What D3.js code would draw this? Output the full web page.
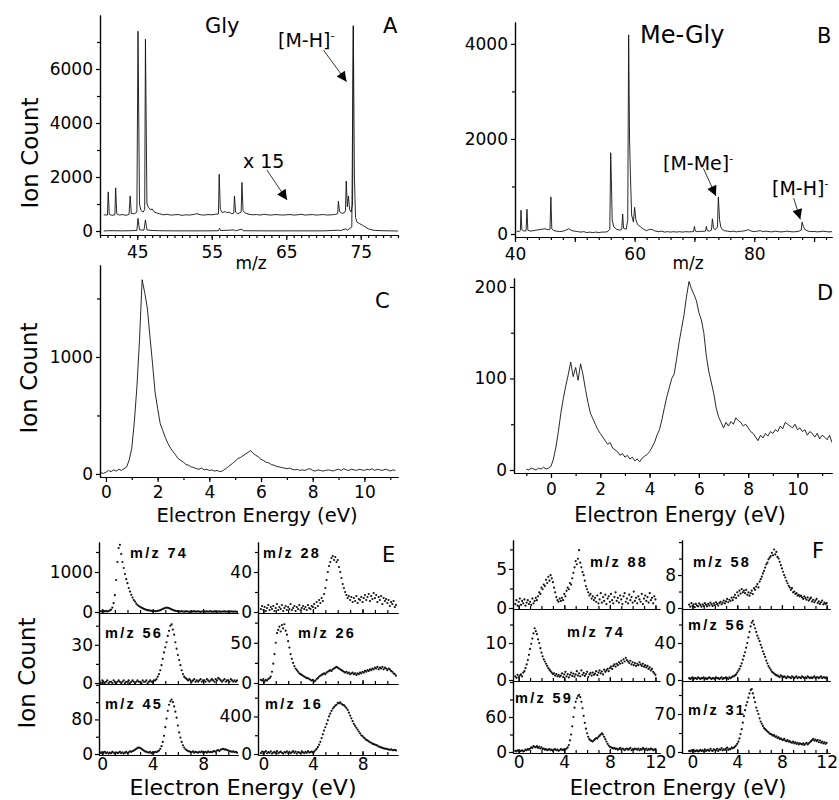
<!DOCTYPE html>
<html>
<head>
<meta charset="utf-8">
<script src="https://cdn.jsdelivr.net/npm/d3@7"></script>
<style>
  body { margin: 0; background: #fff; }
  svg text { font-family: "DejaVu Sans", sans-serif; fill: #000; }
  .axis text { font-family: "DejaVu Sans", sans-serif; font-size: 17px; fill: #000; }
  .axis path, .axis line { stroke: #000; stroke-width: 1.2; }
  .ml { font-family: "Liberation Sans", Arial, sans-serif; font-weight: bold; font-size: 14.5px; letter-spacing: 2.3px; }
</style>
</head>
<body>
<script>
// ---------- A : glycine mass spectrum, [m/z, ion count] ----------
const glyMain = [[40.5,0],[41,10],[42,10],[43,5],[44,10],[44.95,20],[45.1,470],[45.3,40],[45.9,30],[46.1,410],
  [46.3,40],[47,20],[48,10],[50,5],[52,5],[54,5],[55.9,10],[56.05,100],[56.2,15],[58,40],[58.2,10],[59.05,70],
  [59.2,10],[62,5],[66,5],[70,5],[72,30],[72.2,10],[73,80],[73.2,30],[73.8,150],[74.0,7600],[74.15,2000],
  [74.3,500],[74.5,330],[74.8,280],[75.2,220],[75.6,150],[76,80],[76.5,40],[77,20],[78,10],[79,5],[80,0]];
const glyX15 = [[40.5,600],[41,590],[41.1,1450],[41.25,620],[41.6,580],[42,600],[42.1,1600],[42.25,640],[42.6,590],
  [43,610],[43.5,580],[43.9,620],[44.05,1300],[44.2,650],[44.6,640],[44.95,700],[45.1,7400],[45.3,1000],[45.5,760],
  [45.8,700],[46.0,800],[46.1,7100],[46.3,1000],[46.5,880],[46.8,780],[47.0,820],[47.3,700],[47.7,660],[48,640],
  [48.5,600],[49,620],[49.5,590],[50,600],[50.5,610],[51,580],[51.5,600],[52,590],[52.5,610],[53,640],[53.5,600],
  [54,590],[54.5,610],[55,600],[55.5,620],[55.9,630],[56.0,2100],[56.15,800],[56.4,680],[56.8,720],[57.0,680],
  [57.3,700],[57.7,640],[57.95,660],[58.05,1300],[58.2,700],[58.5,640],[58.8,680],[58.95,700],[59.05,1800],
  [59.2,760],[59.5,660],[60,620],[60.5,600],[61,610],[61.5,590],[62,620],[62.5,600],[63,590],[63.5,610],[64,600],
  [64.5,590],[65,600],[65.5,610],[66,590],[66.5,600],[67,620],[67.5,590],[68,600],[68.5,610],[69,590],[69.5,600],
  [70,610],[70.5,590],[71,600],[71.5,610],[71.9,640],[72.0,1100],[72.15,720],[72.5,650],[72.8,680],[72.95,750],
  [73.05,1850],[73.2,900],[73.35,1300],[73.5,800],[73.7,700],[73.9,1000],[74.0,7600]];

// ---------- B : methyl-glycine mass spectrum ----------
const meGlySpec = [[40.3,60],[40.7,50],[40.9,80],[41.0,500],[41.15,90],[41.5,60],[41.85,70],[42.0,520],[42.15,80],
  [42.5,60],[43,70],[43.5,80],[44,90],[44.5,100],[45,110],[45.5,90],[45.85,100],[46.0,780],[46.15,110],[46.5,70],
  [47,60],[47.5,50],[48,60],[48.5,80],[49,110],[49.5,70],[50,60],[50.5,50],[51,40],[51.5,50],[52,30],[52.5,40],
  [53,30],[53.5,40],[54,30],[54.5,40],[55,40],[55.5,50],[55.85,100],[56.0,1710],[56.1,1200],[56.25,300],[56.5,150],
  [57,100],[57.5,80],[57.85,100],[58.0,420],[58.15,120],[58.6,100],[58.85,300],[59.0,4190],[59.15,2000],[59.3,1240],
  [59.5,400],[59.8,250],[60.0,560],[60.2,300],[60.5,200],[61,150],[61.5,100],[62,70],[62.5,100],[63,90],[63.5,60],
  [64,50],[64.5,60],[65,40],[65.5,50],[66,40],[66.5,50],[67,40],[67.5,50],[68,40],[68.5,50],[69,45],[69.85,50],
  [70.0,160],[70.15,60],[70.5,50],[71,55],[71.85,60],[72.0,160],[72.15,70],[72.5,60],[72.85,80],[73.0,320],
  [73.2,120],[73.5,90],[73.85,150],[74.0,780],[74.2,300],[74.4,150],[74.7,90],[75,70],[75.5,60],[76,50],[76.5,60],
  [77,45],[77.5,55],[78,60],[78.5,70],[79,90],[79.5,60],[80,50],[80.5,60],[81,70],[81.5,50],[82,60],[82.5,50],
  [83,45],[83.5,60],[84,50],[84.5,45],[85,50],[85.5,60],[86,50],[86.5,45],[87,50],[87.5,60],[87.85,80],[88.0,250],
  [88.2,160],[88.5,90],[89,60],[89.5,50],[90,55],[90.5,45],[91,50],[91.5,60],[92,50],[92.5,45],[93,50]];

// ---------- C / D : ion yield, 0.1 eV steps ----------
const cStart = -0.2;
const glyYield = [10,5,15,30,20,35,25,40,30,45,
  60,120,220,450,750,1150,1660,1550,1420,1180,
  950,700,560,430,370,310,260,220,190,160,
  130,115,100,80,75,60,55,45,40,50,
  35,40,30,35,25,30,20,25,40,55,
  75,90,110,130,140,155,170,185,200,175,
  160,145,125,115,100,95,80,75,65,60,
  55,50,45,50,40,35,40,30,35,30,
  40,45,30,25,35,30,25,30,35,30,
  25,35,40,30,45,35,30,40,35,30,
  40,35,30,40,35,45,30,40,35,30,
  40,35,25,35,30];
const dStart = -1.0;
const meGlyYield = [1,0,2,1,0,2,1,3,1,2,
  4,12,25,42,62,78,92,104,118,102,
  112,98,116,104,88,74,62,56,50,44,
  40,36,32,28,30,24,22,20,16,18,
  14,16,12,14,10,12,9,13,15,17,
  20,25,30,38,44,55,68,80,90,100,
  105,122,140,155,170,190,206,198,192,185,
  172,164,150,125,108,96,84,68,58,52,
  46,52,48,53,50,57,54,52,48,50,
  46,42,40,36,32,38,35,40,37,42,
  40,44,42,48,45,52,50,48,46,50,
  44,46,42,44,38,42,40,36,40,34,
  38,36,33,38,30];

// ---------- E : glycine fragments, 0.1 eV steps from eStart ----------
const eStart = -0.2;
const e74 = [10,25,5,20,15,30,10,25,40,60,
  110,220,420,800,1250,1600,1680,1450,1250,1100,
  950,820,720,600,510,430,360,300,260,210,
  175,150,130,110,95,80,65,55,45,40,
  35,30,25,30,20,25,30,35,45,60,
  75,90,100,110,105,95,80,65,50,40,
  30,25,20,
  15,10,20,12,8,15,18,10,5,12,15,10,20,8,12,15,10,5,12,18,10,8,15,12,10,20,5,10,15,12,8,10,15,5,12,10,18,8,10,12,5,15,10,8,12,10,5];
const e28 = [3,6,2,5,1,4,7,2,5,3,6,1,4,8,2,5,3,7,1,4,6,2,5,3,8,2,4,6,1,5,3,7,2,4,6,3,5,2,7,4,3,6,
  5,8,4,10,6,12,9,14,11,18,
  24,32,40,46,50,54,56,52,55,50,
  52,45,40,34,28,24,20,17,14,16,
  12,15,10,14,11,16,9,13,12,15,
  10,14,17,12,15,18,11,16,13,19,
  14,17,10,15,12,16,8,14,11,13,
  9,12,6,10,8,11,5,7];
const e56 = [1,0,2,1,0,1,2,0,1,1,0,2,1,0,1,2,1,0,1,2,0,1,1,2,0,1,2,1,0,1,2,1,1,0,2,1,1,2,0,1,2,1,1,2,
  2,3,5,7,10,14,19,24,
  28,32,37,41,45,46,42,38,32,27,
  22,18,14,10,7,5,4,3,2,3,
  2,1,2,3,1,2,1,2,3,1,2,2,1,3,2,1,2,3,2,1,3,2,4,3,2,1,2,3,1,2,2,1,3,2,1,2,1,2];
const e26 = [4,3,5,2,4,3,5,6,
  8,14,24,36,50,62,66,70,64,72,
  68,73,65,60,52,44,36,30,25,21,
  18,16,14,12,11,10,9,8,7,6,
  6,5,4,3,4,2,3,5,6,8,
  9,10,11,12,11,13,14,15,16,15,
  17,18,19,20,19,18,17,16,15,14,
  13,14,12,13,11,12,13,11,12,10,
  12,11,13,12,14,13,15,14,16,15,
  17,16,18,17,19,18,20,17,19,18,
  20,17,19,18,16,18,17,15,14,12,11,9];
const e45 = [2,4,1,3,5,2,4,1,3,2,5,3,1,4,2,3,5,2,4,1,3,5,2,4,6,5,
  7,8,10,12,14,15,14,12,10,8,6,5,
  4,3,5,2,4,3,5,4,6,8,
  12,18,28,42,62,82,100,114,122,126,
  120,110,98,84,66,50,38,28,20,15,
  11,9,7,6,5,4,6,3,5,4,
  3,5,4,6,3,4,5,3,6,4,
  5,4,6,7,5,8,9,7,10,11,
  12,10,11,9,8,7,6,5,6,4,5,3];
const e16 = [10,25,5,18,30,8,20,12,28,5,15,22,10,30,8,18,25,12,5,20,15,28,10,22,8,18,30,12,25,5,20,15,10,28,18,8,22,12,30,15,20,25,
  15,25,40,55,75,100,130,170,210,250,
  285,320,360,400,430,460,485,500,515,525,
  545,540,550,535,525,520,505,490,470,440,
  410,380,350,320,300,280,260,240,220,200,
  190,175,165,150,145,135,125,120,110,105,
  100,95,90,80,75,70,65,60,58,55,
  52,48,45,50,42,40,45,38];

// ---------- F : methyl-glycine fragments, 0.1 eV steps from fStart ----------
const fStart = -0.3;
const f88 = [0.5,1.0,0.3,0.8,1.2,0.4,0.9,0.6,1.1,0.3,0.7,1.0,0.5,0.8,0.4,1.2,0.6,0.9,1.3,1.0,
  1.5,2.0,1.8,2.6,2.4,3.0,2.8,3.6,3.2,4.0,
  3.5,4.2,3.8,3.3,2.6,2.0,1.4,1.0,0.8,1.2,
  0.9,1.3,1.0,1.8,1.5,2.2,2.6,2.4,3.2,3.0,
  3.8,4.5,5.2,6.0,5.6,6.3,7.4,5.8,5.2,4.6,
  4.2,3.5,2.8,2.4,2.0,1.6,1.8,1.2,1.5,1.0,
  1.3,0.8,1.6,0.6,1.1,1.9,0.7,1.4,0.9,1.7,0.5,1.2,1.5,0.8,1.8,1.0,0.6,1.4,2.0,0.9,1.3,0.7,1.6,1.1,0.5,1.5,1.9,
  0.8,1.2,0.6,1.7,1.0,1.4,0.7,2.1,0.9,1.3,0.6,1.5,1.1,0.8,1.8,0.5,1.2,1.6,0.9,1.4,0.7,1.9,1.0,1.3,0.6,1.5,1.1];
const f58 = [0.8,0.3,1.2,0.5,0.9,0.2,1.0,0.6,0.4,1.1,0.7,0.3,0.9,0.5,1.2,0.8,0.4,1.0,0.6,1.3,0.9,0.5,1.1,0.7,1.4,1.0,0.6,1.2,1.5,0.9,
  1.3,1.8,1.1,1.6,2.2,1.4,2.0,1.7,2.5,1.9,
  2.6,3.2,2.4,3.8,3.0,4.2,3.5,4.6,3.8,4.2,
  3.6,4.4,3.2,3.8,3.0,3.6,4.2,3.4,4.8,4.4,
  5.2,5.8,5.0,6.4,7.0,7.6,8.4,9.0,9.8,10.6,
  11.0,11.8,12.2,12.6,13.4,12.8,14.2,13.0,13.6,12.4,
  12.0,11.2,10.4,9.6,8.8,8.0,7.4,6.6,6.0,5.4,
  5.0,4.4,4.8,3.8,4.0,3.4,3.6,3.0,3.2,2.8,
  3.0,2.6,2.2,2.8,2.4,2.0,2.6,1.8,2.2,2.5,1.6,2.0,1.4,1.8,2.2,1.2,1.6,1.0,1.4,1.8,0.9,1.3,1.0,1.2];
const f74 = [1.0,0.6,1.4,0.8,1.2,1.5,1.0,2.0,2.4,3.2,
  4.2,5.4,6.8,8.4,9.8,11.2,12.6,14.0,13.2,12.4,
  11.0,10.0,8.6,7.4,6.4,5.6,5.0,4.4,3.8,3.2,
  2.8,2.4,2.0,1.6,1.8,1.2,1.6,1.0,1.4,0.9,
  1.2,1.8,0.8,1.5,2.2,1.0,1.6,0.7,1.4,2.0,1.1,1.7,0.9,1.5,2.4,1.2,1.8,1.0,2.6,1.4,
  1.9,1.1,1.6,2.2,0.8,1.5,1.9,1.2,2.0,1.4,1.7,2.4,1.3,2.0,2.6,1.8,2.3,1.5,2.8,2.2,
  2.6,3.0,2.4,3.2,3.6,3.0,3.8,4.2,3.6,4.4,
  4.0,4.8,4.4,5.2,4.6,5.6,5.0,6.0,5.4,5.0,
  4.6,5.2,4.2,4.8,4.0,4.6,3.8,4.4,4.0,4.8,
  4.2,3.8,4.4,3.6,4.0,3.4,3.8,3.0,3.4,2.6,3.0,2.2,1.8,1.4];
const f56 = [2,1,2,3,1,2,2,1,3,2,1,2,2,3,1,2,1,2,3,2,1,2,2,1,3,2,2,1,2,3,1,2,2,3,2,1,3,2,3,4,
  4,5,6,8,10,12,15,18,22,26,
  30,35,40,46,52,58,62,64,60,56,
  52,48,45,42,38,35,31,28,25,21,
  18,15,13,11,9,8,7,6,5,5,
  4,3,5,4,3,4,3,2,4,3,3,2,4,3,2,3,4,2,3,3,2,4,3,2,3,2,4,3,2,3,2,3,4,2,3,3,2,3,4,2,3,3,2,3];
const f59 = [2,1,3,2,1,2,3,1,2,4,3,5,4,
  6,8,7,10,9,8,10,7,9,6,8,5,6,4,5,3,
  4,5,3,4,2,4,5,3,4,2,3,5,4,3,5,4,6,8,
  12,20,30,44,60,76,86,92,96,98,
  94,86,75,62,50,40,32,26,22,20,
  19,18,20,22,24,23,26,28,30,32,
  30,26,22,18,14,11,9,8,7,6,
  7,5,6,4,5,7,4,6,5,3,5,6,4,5,7,3,5,4,6,5,4,6,3,5,4,7,5,4,6,3,5,4,6,5,3,4,5];
const f31 = [2,1,3,2,4,1,2,3,1,2,4,2,3,1,5,2,3,4,2,6,3,2,5,4,3,6,2,5,4,7,3,5,4,6,8,4,6,5,8,7,
  8,10,12,15,19,25,33,42,54,66,
  77,86,92,100,108,114,116,108,100,92,
  82,76,70,62,56,52,48,44,42,40,
  38,36,34,33,32,30,31,28,29,26,
  27,24,25,23,22,24,21,20,22,19,
  20,18,17,19,16,18,15,17,14,16,
  15,14,16,13,15,17,14,16,18,20,
  22,24,21,23,20,22,18,21,17,19,16,18,15,17];

const eSeries = [
  {label: "m/z 74", vals: e74, top: 1750, major: [0, 1000], minor: [500, 1500]},
  {label: "m/z 28", vals: e28, top: 70, major: [0, 40], minor: [20, 60]},
  {label: "m/z 56", vals: e56, top: 55, major: [0, 30], minor: [15, 45]},
  {label: "m/z 26", vals: e26, top: 87, major: [0, 50], minor: [25, 75]},
  {label: "m/z 45", vals: e45, top: 162, major: [0, 80], minor: [40, 120, 160]},
  {label: "m/z 16", vals: e16, top: 746, major: [0, 400], minor: [200, 600]}
];
const fSeries = [
  {label: "m/z 88", vals: f88, top: 8.7, major: [0, 5], minor: [2.5, 7.5]},
  {label: "m/z 58", vals: f58, top: 16.5, major: [0, 8], minor: [4, 12, 16]},
  {label: "m/z 74", vals: f74, top: 19.2, major: [0, 10], minor: [5, 15]},
  {label: "m/z 56", vals: f56, top: 76.8, major: [0, 40], minor: [20, 60]},
  {label: "m/z 59", vals: f59, top: 121.7, major: [0, 60], minor: [30, 90, 120]},
  {label: "m/z 31", vals: f31, top: 130.8, major: [0, 70], minor: [35, 105]}
];

// ---------- drawing ----------
const svg = d3.select("body").append("svg").attr("width", 839).attr("height", 800);
const defs = svg.append("defs");
defs.append("marker").attr("id", "head")
  .attr("viewBox", "0 0 10 10").attr("refX", 10).attr("refY", 5)
  .attr("markerWidth", 12).attr("markerHeight", 10)
  .attr("markerUnits", "userSpaceOnUse").attr("orient", "auto")
  .append("path").attr("d", "M0,0L10,5L0,10Z").attr("fill", "#000");

let clipN = 0;

function frame(p) {
  const x = d3.scaleLinear().domain(p.xDomain).range([p.left, p.right]);
  const y = d3.scaleLinear().domain(p.yDomain).range([p.bottom, p.top]);
  const g = svg.append("g");
  const id = "clip" + (clipN++);
  defs.append("clipPath").attr("id", id).append("rect")
    .attr("x", p.left).attr("y", p.top - 1)
    .attr("width", p.right - p.left).attr("height", p.bottom - p.top + 1);
  const inward = p.xTickDir === "in";

  g.append("g").attr("class", "axis").attr("transform", `translate(0,${p.bottom})`)
    .call(d3.axisBottom(x).tickValues(p.xMinor).tickSize(inward ? -3 : 3).tickFormat("").tickSizeOuter(0));
  g.append("g").attr("class", "axis").attr("transform", `translate(0,${p.bottom})`)
    .call(d3.axisBottom(x).tickValues(p.xMajor).tickSize(inward ? -4 : 5).tickSizeOuter(0)
      .tickPadding(p.xPad || 6).tickFormat(p.xLabels ? d3.format("d") : ""));

  g.append("g").attr("class", "axis").attr("transform", `translate(${p.left},0)`)
    .call(d3.axisLeft(y).tickValues(p.yMinor).tickSize(3).tickFormat("").tickSizeOuter(0));
  g.append("g").attr("class", "axis").attr("transform", `translate(${p.left},0)`)
    .call(d3.axisLeft(y).tickValues(p.yMajor).tickSize(4).tickPadding(p.yPad || 3).tickSizeOuter(0)
      .tickFormat(d3.format("d")));

  const plot = g.append("g").attr("clip-path", `url(#${id})`);
  return {x, y, g, plot};
}

function drawLine(f, pts) {
  const line = d3.line().x(d => f.x(d[0])).y(d => f.y(d[1]));
  f.plot.append("path").datum(pts).attr("d", line)
    .attr("fill", "none").attr("stroke", "#111").attr("stroke-width", 0.9);
}

function drawDots(f, pts) {
  f.plot.selectAll("circle.pt").data(pts).join("circle").attr("class", "pt")
    .attr("cx", d => f.x(d[0])).attr("cy", d => f.y(d[1])).attr("r", 1.1).attr("fill", "#111");
}

function text(s, x, y, size, anchor) {
  return svg.append("text").attr("x", x).attr("y", y)
    .attr("font-size", size).attr("text-anchor", anchor || "start").text(s);
}

function superLabel(s, x, y, size) {
  const t = svg.append("text").attr("x", x).attr("y", y).attr("font-size", size);
  t.append("tspan").text(s);
  t.append("tspan").attr("dy", -8).attr("font-size", 11).text("-");
}

function arrow(f, from, to) {
  f.g.append("line")
    .attr("x1", f.x(from[0])).attr("y1", f.y(from[1]))
    .attr("x2", f.x(to[0])).attr("y2", f.y(to[1]))
    .attr("stroke", "#000").attr("stroke-width", 0.8).attr("marker-end", "url(#head)");
}

function ionCount(x, y) {
  svg.append("text").attr("transform", `translate(${x},${y}) rotate(-90)`)
    .attr("text-anchor", "middle").attr("font-size", 23).text("Ion Count");
}

const grid = (start, vals) => vals.map((v, i) => [+(start + i * 0.1).toFixed(2), v]);

// A
const fa = frame({left: 100, right: 398, top: 15, bottom: 235,
  xDomain: [40, 80], yDomain: [-148, 8000],
  xMinor: d3.range(40, 81, 1), xMajor: [45, 55, 65, 75], xLabels: true, xPad: 6,
  yMinor: [1000, 3000, 5000, 7000], yMajor: [0, 2000, 4000, 6000]});
drawLine(fa, glyMain);
drawLine(fa, glyX15);
arrow(fa, [70.0, 6700], [73.1, 5530]);
arrow(fa, [62.4, 2260], [65.1, 1150]);
text("Gly", 205, 33, 21);
text("A", 383, 33, 21);
superLabel("[M-H]", 278, 47, 19);
text("x 15", 243, 168, 19);
text("m/z", 251, 269, 17, "middle");
ionCount(38, 153);

// B
const fb = frame({left: 515, right: 832, top: 22, bottom: 237,
  xDomain: [40, 93], yDomain: [-63, 4460],
  xMinor: d3.range(40, 93, 2), xMajor: [40, 50, 60, 70, 80, 90], xLabels: false,
  yMinor: [1000, 3000], yMajor: [0, 2000, 4000]});
fb.g.append("g").attr("class", "axis").attr("transform", "translate(0,237)")
  .call(d3.axisBottom(fb.x).tickValues([40, 60, 80]).tickSize(0).tickPadding(11).tickFormat(d3.format("d")))
  .select(".domain").remove();
drawLine(fb, meGlySpec);
arrow(fb, [71.5, 1383], [73.6, 800]);
arrow(fb, [86.6, 751], [87.7, 309]);
text("Me-Gly", 640, 43, 24);
text("B", 817, 43, 21);
superLabel("[M-Me]", 663, 170, 19);
superLabel("[M-H]", 772, 195, 19);
text("m/z", 688, 269, 17, "middle");

// C
const fc = frame({left: 100, right: 398, top: 265, bottom: 477,
  xDomain: [-0.23, 11.3], yDomain: [-26, 1786],
  xMinor: d3.range(0, 12, 1), xMajor: [0, 2, 4, 6, 8, 10], xLabels: true, xPad: 4,
  yMinor: [500, 1500], yMajor: [0, 1000]});
drawLine(fc, grid(cStart, glyYield));
text("C", 375, 308, 21);
text("Electron Energy (eV)", 257, 522, 19.5, "middle");
ionCount(37, 378);

// D
const fd = frame({left: 514, right: 832, top: 278, bottom: 473,
  xDomain: [-1.5, 11.4], yDomain: [-3.3, 209.8],
  xMinor: d3.range(-1, 12, 1), xMajor: [0, 2, 4, 6, 8, 10], xLabels: true, xPad: 5,
  yMinor: [50, 150], yMajor: [0, 100, 200]});
drawLine(fd, grid(dStart, meGlyYield));
text("D", 817, 300, 21);
text("Electron Energy (eV)", 680, 522, 20.5, "middle");

// E and F small multiples
function smallMultiples(series, start, cols, rows, xTicks, xLabelTicks) {
  series.forEach((s, i) => {
    const c = cols[i % 2], r = rows[Math.floor(i / 2)];
    const h = r[1] - r[0];
    const bottomRow = Math.floor(i / 2) === rows.length - 1;
    const f = frame({left: c.left, right: c.right, top: r[0], bottom: r[1],
      xDomain: c.domain, yDomain: [-s.top / (h - 1), s.top],
      xMinor: xTicks, xMajor: xLabelTicks, xLabels: bottomRow, xTickDir: "in", xPad: 3,
      yMinor: s.minor, yMajor: s.major, yPad: 2});
    drawDots(f, grid(start, s.vals));
  });
}

smallMultiples(eSeries, eStart,
  [{left: 99, right: 238, domain: [-0.26, 10.77]}, {left: 258, right: 398, domain: [-0.43, 10.86]}],
  [[542, 613], [613, 684], [684, 755]],
  d3.range(0, 11, 1), [0, 4, 8]);
smallMultiples(fSeries, fStart,
  [{left: 513, right: 660, domain: [-0.5, 12.4]}, {left: 682, right: 830, domain: [-0.94, 12.3]}],
  [[540, 609], [609, 681], [681, 753]],
  d3.range(0, 13, 1), [0, 4, 8, 12]);

const eLabelPos = [[130, 558], [263, 558], [105, 638], [298, 638], [105, 709], [265, 709]];
const fLabelPos = [[590, 567], [693, 567], [567, 637], [688, 630], [515, 703], [688, 715]];
eSeries.forEach((s, i) => text(s.label, eLabelPos[i][0], eLabelPos[i][1]).attr("class", "ml"));
fSeries.forEach((s, i) => text(s.label, fLabelPos[i][0], fLabelPos[i][1]).attr("class", "ml"));

text("E", 382, 562, 21);
text("F", 812, 558, 21);
text("Electron Energy (eV)", 243, 795, 22, "middle");
text("Electron Energy (eV)", 678, 795, 21, "middle");
ionCount(35, 673);
</script>
</body>
</html>
